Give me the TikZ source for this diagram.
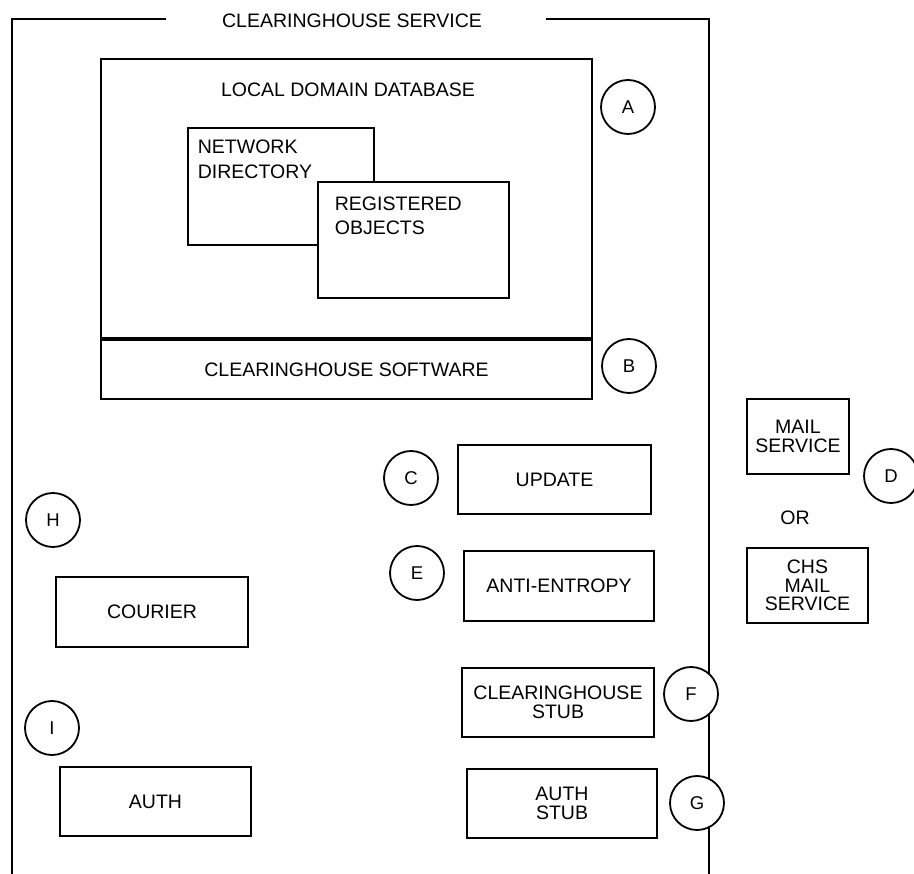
\documentclass[tikz,border=0pt]{standalone}
\usepackage{fontspec}
\setmainfont{Liberation Sans}
\begin{document}
\begin{tikzpicture}[x=1pt,y=-1pt,
  line width=1.8pt,
  txt/.style={font=\fontsize{19.5}{18.5}\selectfont, align=center, inner sep=0pt},
  box/.style={draw, fill=white, inner sep=0pt, font=\fontsize{19.5}{18.5}\selectfont, align=center},
  tag/.style={draw, circle, fill=white, minimum size=54pt, inner sep=0pt, font=\fontsize{18.5}{18.5}\selectfont}]
\useasboundingbox (0,0) rectangle (914,874);
% outer frame (clearinghouse service)
\node[txt] (title) at (352,21) {CLEARINGHOUSE SERVICE};
\coordinate (tl1) at (166,19);
\coordinate (tl2) at (546,19);
\draw (tl1) -- (12,19) -- (12,874);
\draw (tl2) -- (709,19) -- (709,874);
% local domain database
\node[box, minimum width=491pt, minimum height=281pt] (ldb) at (346.5,199.5) {};
\node[txt] (ldbt) at (348,90) {LOCAL DOMAIN DATABASE};
\node[box, minimum width=186pt, minimum height=117pt] (nd) at (281,186.5) {};
\node[txt, align=left, anchor=north west, font=\fontsize{19.5}{24.5}\selectfont] (ndt) at (197,139) {NETWORK\\DIRECTORY};
\node[box, minimum width=191pt, minimum height=116pt] (ro) at (413.5,240) {};
\node[txt, align=left, anchor=north west, font=\fontsize{19.5}{24}\selectfont] (rot) at (334,196) {REGISTERED\\OBJECTS};
% software
\node[box, minimum width=491pt, minimum height=59pt] (sw) at (346.5,369.5) {CLEARINGHOUSE SOFTWARE};
\draw[line width=4.2pt] (sw.north west) -- (sw.north east);
% components
\node[box, minimum width=193pt, minimum height=69pt] (upd) at (554.5,479.5) {UPDATE};
\node[box, minimum width=190pt, minimum height=70pt] (ae) at (559,586) {ANTI-ENTROPY};
\node[box, minimum width=192pt, minimum height=69pt] (chs) at (558,702.5) {CLEARINGHOUSE\\STUB};
\node[box, minimum width=190pt, minimum height=69pt] (as) at (562,803.5) {AUTH\\STUB};
\node[box, minimum width=192pt, minimum height=70pt] (cour) at (152,612) {COURIER};
\node[box, minimum width=191pt, minimum height=69pt] (auth) at (155.5,801.5) {AUTH};
\node[box, minimum width=102pt, minimum height=75pt] (mail) at (798,436.5) {MAIL\\SERVICE};
\node[txt] (or) at (795,518) {OR};
\node[box, minimum width=121pt, minimum height=75pt] (chsmail) at (807.5,585.5) {CHS\\MAIL\\SERVICE};
% tags
\node[tag] (A) at (628,107) {A};
\node[tag] (B) at (629,366) {B};
\node[tag] (C) at (411,478) {C};
\node[tag] (D) at (891,476) {D};
\node[tag] (E) at (417,573) {E};
\node[tag] (F) at (691,694) {F};
\node[tag] (G) at (697,803) {G};
\node[tag] (H) at (53,520) {H};
\node[tag] (I) at (52,728) {I};
\end{tikzpicture}
\end{document}
